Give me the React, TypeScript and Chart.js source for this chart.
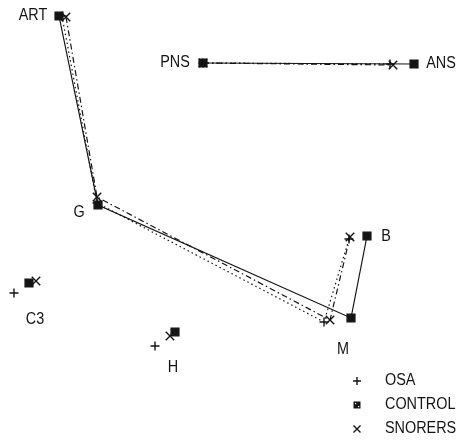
import React, { useEffect, useRef } from "react";
import { Chart, registerables } from "chart.js";

Chart.register(...registerables);

// Landmark order for the main outline: ART -> G -> M -> B
const outlineNames = ["ART", "G", "M", "B"];
const controlOutline = [
  { x: 59, y: 16 },
  { x: 98, y: 205 },
  { x: 351, y: 318 },
  { x: 367, y: 236 },
];
const snorersOutline = [
  { x: 66, y: 17 },
  { x: 97, y: 197 },
  { x: 330, y: 320 },
  { x: 350, y: 237 },
];
const osaOutline = [
  { x: 62, y: 16 },
  { x: 97, y: 203 },
  { x: 324, y: 322 },
  { x: 349, y: 239 },
];

// Palatal plane PNS -> ANS
const controlPalate = [
  { x: 203, y: 63 },
  { x: 414, y: 64 },
];
const snorersPalate = [
  { x: 203, y: 63 },
  { x: 393, y: 65 },
];
const osaPalate = [
  { x: 203, y: 63 },
  { x: 390, y: 64 },
];

// Isolated landmarks C3, H
const controlIsolated = [
  { x: 29, y: 283 },
  { x: 175, y: 332 },
];
const snorersIsolated = [
  { x: 36, y: 281 },
  { x: 170, y: 336 },
];
const osaIsolated = [
  { x: 14, y: 293 },
  { x: 155, y: 346 },
];

// Landmark labels
const labelTexts = ["ART", "PNS", "ANS", "G", "B", "C3", "M", "H"];
const labelPositions = [
  { x: 33, y: 16 },
  { x: 175, y: 63 },
  { x: 441, y: 64 },
  { x: 79, y: 213 },
  { x: 386, y: 237 },
  { x: 35, y: 320 },
  { x: 343, y: 350 },
  { x: 173, y: 368 },
];

const legendNames = ["OSA", "CONTROL", "SNORERS"];

const INK = "#141414";
const SQUEEZE = 0.9;

export default function App() {
  const canvasRef = useRef<HTMLCanvasElement | null>(null);

  useEffect(() => {
    if (!canvasRef.current) return;

    const drawText = (ctx: any, t: string, x: number, y: number, align: string) => {
      ctx.save();
      ctx.translate(x, y);
      ctx.scale(SQUEEZE, 1);
      ctx.textAlign = align;
      ctx.fillText(t, 0, 0);
      ctx.restore();
    };

    const labelPlugin = {
      id: "landmarkLabels",
      afterDatasetsDraw(chart: any) {
        const { ctx, scales } = chart;
        const xs = scales.x;
        const ys = scales.y;
        ctx.save();
        ctx.fillStyle = INK;
        ctx.font = "16px 'Liberation Sans', Arial, sans-serif";
        ctx.textBaseline = "middle";
        labelTexts.forEach((t, i) => {
          const p = labelPositions[i];
          drawText(ctx, t, xs.getPixelForValue(p.x), ys.getPixelForValue(p.y), "center");
        });

        // legend
        const lx = xs.getPixelForValue(357);
        const tx = xs.getPixelForValue(385);
        const rows = [381, 405, 429].map((v) => ys.getPixelForValue(v));
        legendNames.forEach((n, i) => {
          drawText(ctx, n, tx, rows[i], "left");
        });
        ctx.strokeStyle = INK;
        ctx.lineWidth = 1.4;
        // plus
        ctx.beginPath();
        ctx.moveTo(lx - 4, rows[0]);
        ctx.lineTo(lx + 4, rows[0]);
        ctx.moveTo(lx, rows[0] - 4);
        ctx.lineTo(lx, rows[0] + 4);
        ctx.stroke();
        // square
        ctx.fillRect(lx - 3.5, rows[1] - 3.5, 7, 7);
        ctx.fillStyle = "#ffffff";
        ctx.fillRect(lx - 2, rows[1] - 2, 1.2, 1.2);
        ctx.fillRect(lx + 1, rows[1] + 1, 1.2, 1.2);
        // cross
        ctx.beginPath();
        ctx.moveTo(lx - 3.5, rows[2] - 3.5);
        ctx.lineTo(lx + 3.5, rows[2] + 3.5);
        ctx.moveTo(lx + 3.5, rows[2] - 3.5);
        ctx.lineTo(lx - 3.5, rows[2] + 3.5);
        ctx.stroke();
        ctx.restore();
      },
    };

    const lineDs = (
      label: string,
      data: { x: number; y: number }[],
      dash: number[],
      style: string,
      radius: number,
      showLine: boolean
    ) => ({
      label,
      data,
      showLine,
      borderColor: INK,
      backgroundColor: INK,
      borderWidth: 1.2,
      borderDash: dash,
      pointStyle: style,
      pointRadius: radius,
      pointBorderColor: INK,
      pointBackgroundColor: INK,
      pointBorderWidth: 1.4,
      fill: false,
      tension: 0,
    });

    const chart = new Chart(canvasRef.current, {
      type: "scatter",
      data: {
        datasets: [
          lineDs("OSA", osaOutline, [1.5, 3], "cross", 4.5, true),
          lineDs("OSA palate", osaPalate, [1.5, 3], "cross", 4.5, true),
          lineDs("OSA isolated", osaIsolated, [], "cross", 4.5, false),
          lineDs("SNORERS", snorersOutline, [6, 3, 1.5, 3], "crossRot", 6, true),
          lineDs("SNORERS palate", snorersPalate, [6, 3, 1.5, 3], "crossRot", 6, true),
          lineDs("SNORERS isolated", snorersIsolated, [], "crossRot", 6, false),
          lineDs("CONTROL", controlOutline, [], "rect", 5.5, true),
          lineDs("CONTROL palate", controlPalate, [], "rect", 5.5, true),
          lineDs("CONTROL isolated", controlIsolated, [], "rect", 5.5, false),
        ],
      },
      options: {
        animation: false,
        responsive: true,
        maintainAspectRatio: false,
        layout: { padding: 0, autoPadding: false },
        plugins: {
          legend: { display: false },
          tooltip: { enabled: false },
        },
        scales: {
          x: { type: "linear", min: 0, max: 461, display: false },
          y: { type: "linear", min: 0, max: 441, reverse: true, display: false },
        },
      },
      plugins: [labelPlugin],
    });

    return () => chart.destroy();
  }, []);

  return (
    <div
      style={{
        position: "fixed",
        left: 0,
        top: 0,
        width: 461,
        height: 441,
        background: "#ffffff",
      }}
    >
      <canvas ref={canvasRef} />
    </div>
  );
}
